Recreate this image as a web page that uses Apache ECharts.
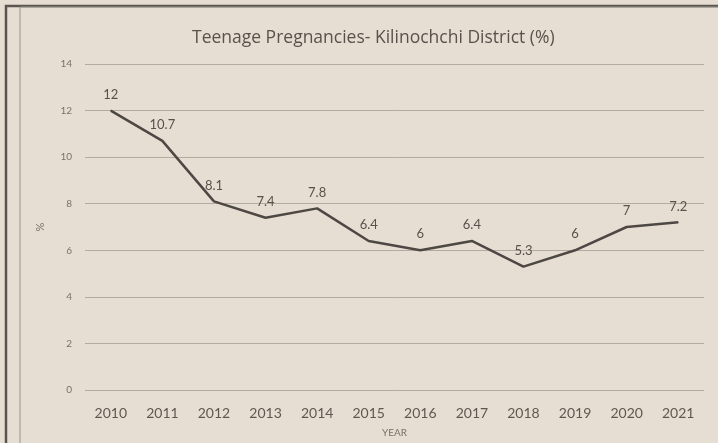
<!DOCTYPE html>
<html lang="en">
<head>
    <meta charset="UTF-8">
    <title>Teenage Pregnancies</title>
    <script src="https://cdn.jsdelivr.net/npm/echarts@6/dist/echarts.min.js"></script>
    <style>
        html, body { margin: 0; padding: 0; background: #e7ded3; }
        #chart { width: 718px; height: 443px; }
    </style>
</head>
<body>
<div id="chart"></div>
<script type="text/javascript">
var years = ['2010', '2011', '2012', '2013', '2014', '2015', '2016', '2017', '2018', '2019', '2020', '2021'];
var rates = [12, 10.7, 8.1, 7.4, 7.8, 6.4, 6, 6.4, 5.3, 6, 7, 7.2];

var myChart = echarts.init(document.getElementById('chart'));
var option = {
    backgroundColor: '#e7ded3',
    textStyle: { fontFamily: 'Lato, "Open Sans", sans-serif' },
    title: {
        text: 'Teenage Pregnancies- Kilinochchi District (%)',
        left: 187,
        top: 24,
        textStyle: { fontSize: 17.5, fontWeight: 'normal', color: '#58524c', fontFamily: '"Open Sans", sans-serif' }
    },
    graphic: [
        // scanned frame round the chart
        { type: 'rect', shape: { x: 6, y: 6, width: 730, height: 450 },
          style: { fill: 'none', stroke: '#5a5550', lineWidth: 2.5 }, silent: true },
        { type: 'rect', shape: { x: 20, y: 7, width: 720, height: 450 },
          style: { fill: 'none', stroke: '#9a938b', lineWidth: 1 }, silent: true }
    ],
    grid: { left: 85, right: 14, top: 64, bottom: 53 },
    xAxis: {
        type: 'category',
        data: years,
        boundaryGap: true,
        name: 'YEAR',
        nameLocation: 'middle',
        nameGap: 38,
        nameTextStyle: { fontSize: 10, color: '#77716a' },
        axisLine: { show: false },
        axisTick: { show: false },
        axisLabel: { fontSize: 14, color: '#5e5851', margin: 16 }
    },
    yAxis: {
        type: 'value',
        min: 0,
        max: 14,
        interval: 2,
        name: '%',
        nameLocation: 'middle',
        nameGap: 39,
        nameRotate: 90,
        nameTextStyle: { fontSize: 11, color: '#77716a' },
        axisLabel: { fontSize: 10, color: '#77716a', margin: 13 },
        splitLine: { lineStyle: { color: '#b3aba2', width: 1 } }
    },
    series: [{
        name: 'Teenage pregnancies',
        type: 'line',
        data: rates,
        symbol: 'circle',
        symbolSize: 1,
        itemStyle: { color: '#4d4844' },
        lineStyle: { color: '#4d4844', width: 2.5 },
        label: {
            show: true,
            position: 'top',
            distance: 9,
            fontSize: 13,
            color: '#57514b'
        }
    }]
};
myChart.setOption(option);
</script>
</body>
</html>
